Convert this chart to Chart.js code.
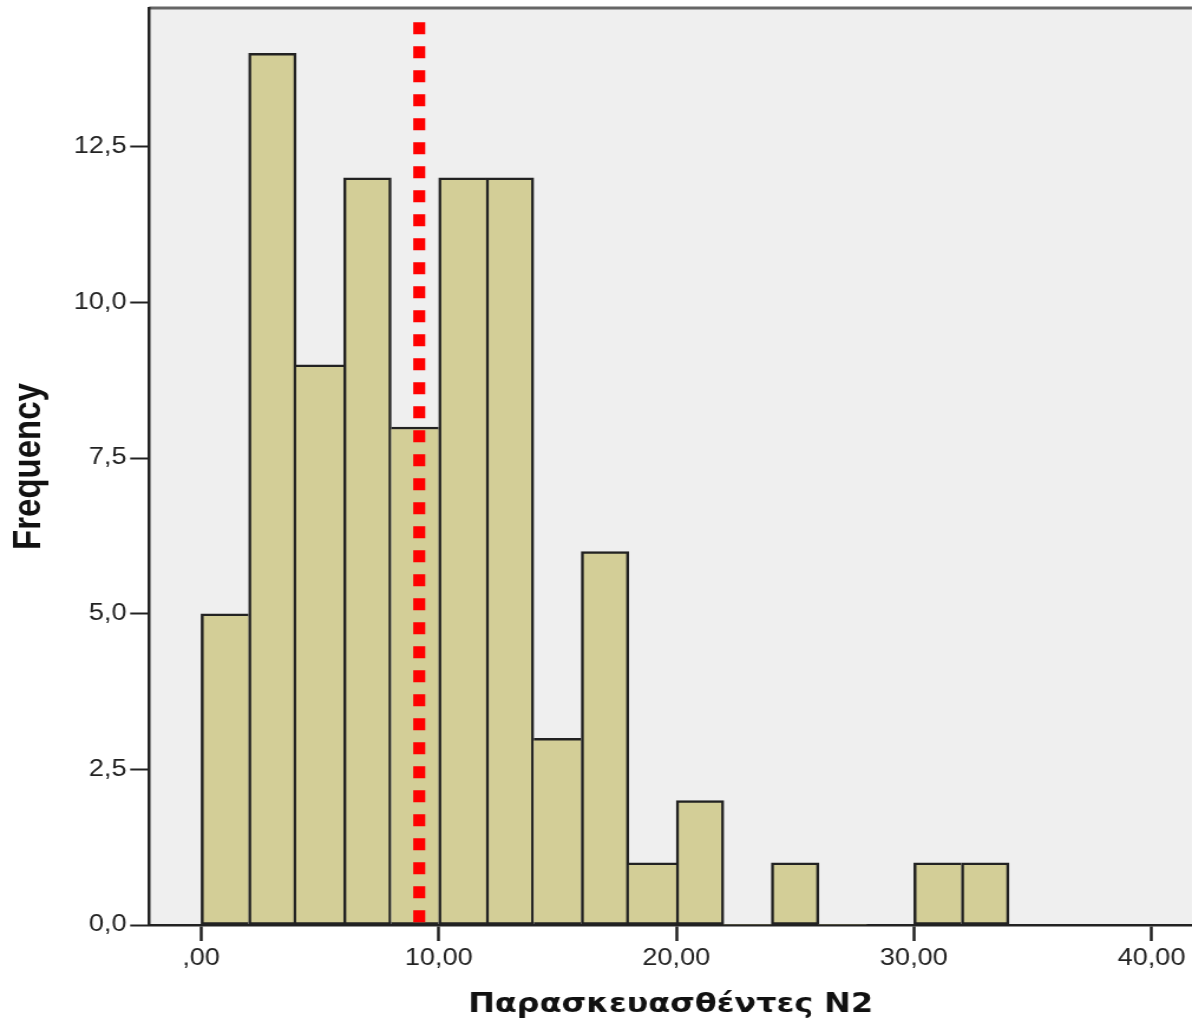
<!DOCTYPE html>
<html>
<head>
<meta charset="utf-8">
<script src="https://cdn.jsdelivr.net/npm/chart.js@4/dist/chart.umd.min.js"></script>
<style>
  html, body { margin: 0; padding: 0; background: #fff; overflow: hidden; }
  /* the reference picture is stretched sideways, so the chart is drawn narrower and scaled;
     a few extra px on the right absorb the line dataset's overflow padding */
  #wrap { width: 1015.2px; height: 1028px; transform: scaleX(1.1802); transform-origin: 0 0; }
</style>
</head>
<body>
<div id="wrap"><canvas id="hist"></canvas></div>
<script>
// Histogram data (bins of width 2)
const binCenters = [1, 3, 5, 7, 9, 11, 13, 15, 17, 19, 21, 23, 25, 27, 29, 31, 33];
const counts     = [5, 14, 9, 12, 8, 12, 12, 3, 6, 1, 2, 0, 1, 0, 0, 1, 1];
const meanValue = 9.18;
const meanLineTop = 14.5;
const xTicks = [0, 10, 20, 30, 40];
const yTicks = [0, 2.5, 5, 7.5, 10, 12.5];

const plotBg = {
    id: 'plotBg',
    beforeDraw(chart) {
        const { ctx, chartArea: a } = chart;
        ctx.save();
        ctx.fillStyle = '#efefef';
        ctx.fillRect(a.left, a.top, a.right - a.left, a.bottom - a.top);
        ctx.strokeStyle = '#666';
        ctx.lineWidth = 3;
        ctx.beginPath();
        ctx.moveTo(a.left, a.top);
        ctx.lineTo(a.right, a.top);
        ctx.stroke();
        ctx.restore();
    }
};

// only draw a side edge where the neighbour is lower, so shared edges are not doubled
const edge = 2.5;
const barBorder = c => {
    const i = c.dataIndex;
    const cur = counts[i];
    const prev = i > 0 ? counts[i - 1] : 0;
    const next = i < counts.length - 1 ? counts[i + 1] : 0;
    return { top: edge, bottom: edge, left: prev <= cur ? edge : 0, right: next < cur ? edge : 0 };
};

const noPad = s => { s.paddingTop = 0; s.paddingBottom = 0; s.paddingLeft = 0; s.paddingRight = 0; };
const fmtY = v => v.toFixed(1).replace('.', ',');
const fmtX = v => v === 0 ? ',00' : v.toFixed(2).replace('.', ',');

new Chart(document.getElementById('hist'), {
    type: 'bar',
    data: {
        datasets: [
            {
                type: 'line',
                data: [{ x: meanValue, y: meanLineTop }, { x: meanValue, y: 0 }],
                borderColor: '#ff0000',
                borderWidth: 10.2,
                borderDash: [12, 12],
                borderCapStyle: 'butt',
                pointRadius: 0,
                order: 0
            },
            {
                type: 'bar',
                data: binCenters.map((x, i) => ({ x, y: counts[i] })),
                backgroundColor: '#d3ce97',
                borderColor: '#222',
                borderWidth: barBorder,
                borderSkipped: false,
                barPercentage: 1,
                categoryPercentage: 1,
                order: 1
            }
        ]
    },
    options: {
        responsive: true,
        maintainAspectRatio: false,
        animation: false,
        layout: { padding: { top: 8, right: 0, left: 0, bottom: 0 } },
        plugins: { legend: { display: false }, tooltip: { enabled: false } },
        scales: {
            x: {
                type: 'linear',
                min: -2.19,
                max: 41.71,
                offset: false,
                z: 1,
                afterBuildTicks: axis => { axis.ticks = xTicks.map(v => ({ value: v })); },
                afterFit: s => { s.height = 103; noPad(s); },
                grid: { offset: false, drawOnChartArea: false, drawTicks: true, tickLength: 16, tickWidth: 2.5, tickColor: '#222' },
                border: { display: true, color: '#222', width: 2.5 },
                ticks: { autoSkip: false, maxRotation: 0, padding: 4, color: '#222', font: { family: 'Liberation Sans', size: 23 }, callback: v => fmtX(v) },
                title: { display: true, text: 'Παρασκευασθέντες N2', color: '#111', padding: { top: 0, bottom: 7 }, font: { family: 'DejaVu Sans', size: 27, weight: 'bold' } }
            },
            y: {
                type: 'linear',
                min: 0,
                max: 14.73,
                afterBuildTicks: axis => { axis.ticks = yTicks.map(v => ({ value: v })); },
                afterFit: s => { s.width = 126.3; noPad(s); },
                grid: { drawOnChartArea: false, drawTicks: true, tickLength: 16, tickWidth: 2, tickColor: '#222' },
                border: { display: true, color: '#222', width: 2.5 },
                ticks: { autoSkip: false, padding: 3, color: '#222', font: { family: 'Liberation Sans', size: 23 }, callback: v => fmtY(v) },
                title: { display: true, text: 'Frequency', color: '#111', padding: { top: 5, bottom: 0 }, font: { family: 'Liberation Sans', size: 33, weight: 'bold' } }
            }
        }
    },
    plugins: [plotBg]
});
</script>
</body>
</html>
